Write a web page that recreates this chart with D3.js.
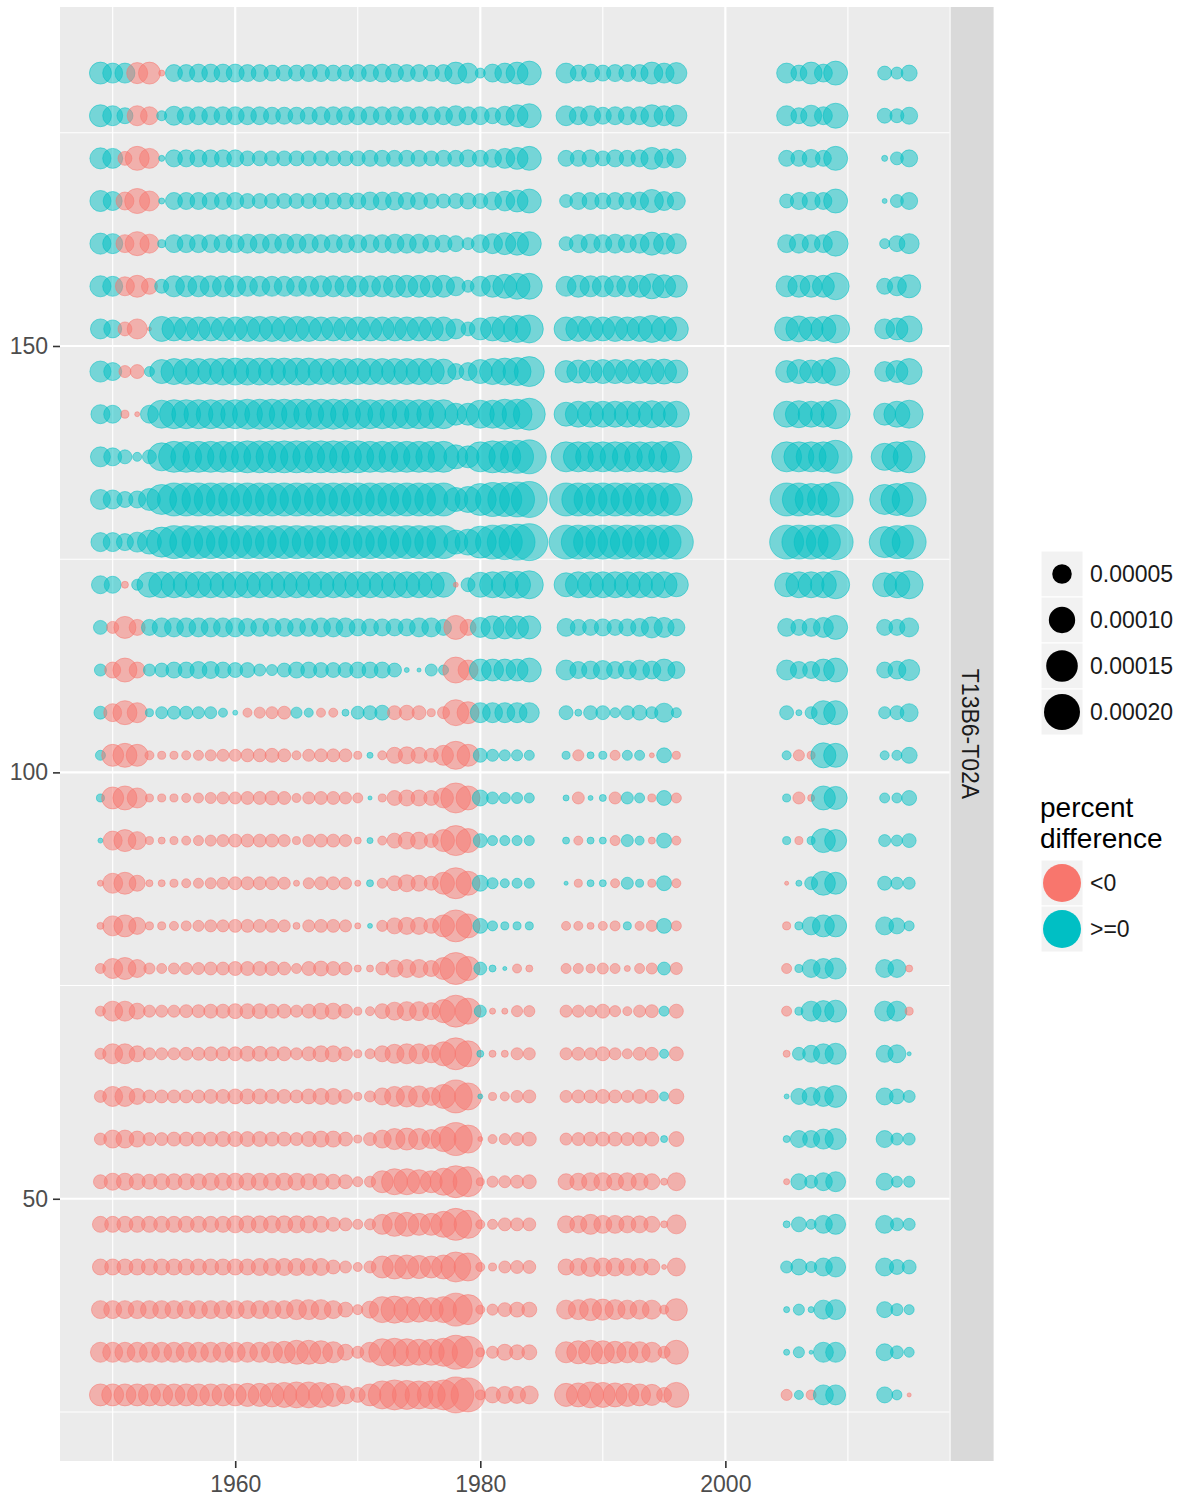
<!DOCTYPE html>
<html><head><meta charset="utf-8">
<script src="https://cdn.jsdelivr.net/npm/d3@7"></script>
<style>body{margin:0;background:#fff;} text{font-family:"Liberation Sans",Arial,sans-serif;}</style>
</head><body>
<script>
// ---- data ----
const years = [1949,1950,1951,1952,1953,1954,1955,1956,1957,1958,1959,1960,1961,1962,1963,1964,1965,1966,1967,1968,1969,1970,1971,1972,1973,1974,1975,1976,1977,1978,1979,1980,1981,1982,1983,1984,
  1987,1988,1989,1990,1991,1992,1993,1994,1995,1996, 2005,2006,2007,2008,2009, 2013,2014,2015];
const levels = [182,177,172,167,162,157,152,147,142,137,132,127,122,117,112,107,102,97,92,87,82,77,72,67,62,57,52,47,42,37,32,27];
const UNIT = 1e-5; // values below are percent difference in units of 0.00001
const r182 = [6.6,5.3,5.3,-6,-6.6,-0.17,3.6,3.6,4.1,4.1,4.1,4.1,3.6,3.6,3.1,3.1,3.1,3.6,3.6,3.1,3.1,3.6,3.6,4.1,4.1,3.6,3.6,3.1,3.6,6.6,5.3,0.9,4.1,5.3,6.6,8.1, 5.3,3.1,4.1,3.1,3.6,3.6,3.6,6.6,5.3,6, 5.3,3.1,6.6,4.1,8.1, 2.2,1.5,3.1];
const r177 = [6.6,5.3,3.1,-5.3,-4.1,0.9,4.7,4.1,4.1,4.1,4.1,4.1,4.1,4.1,3.6,3.6,3.6,3.6,4.1,4.1,4.1,4.1,4.1,4.1,4.1,4.1,4.1,4.1,4.1,5.3,4.1,4.1,3.1,4.7,6.6,8.1, 5.3,4.1,5.3,3.6,4.1,4.1,4.1,6.6,5.3,6, 5.3,3.1,6,4.1,8.9, 2.6,2.2,3.6];
const r172 = [6,5.3,-2.2,-8.1,-5.3,0.17, 3.6,3.6,3.6,3.6,3.6,3.6, 2.6,2.6,2.6,2.6,2.6,2.6,2.6,2.6,2.6,2.6, 3.1,3.1,3.1,3.1,3.1, 2.6,3.1,3.1,3.6,3.1,4.1,5.3,6.6,8.1, 3.1,3.1,3.6,2.6,3.6,3.1,3.6,6.6,4.7,4.7, 3.1,3.1,4.1,3.1,8.1, 0.17,1.8,3.6];
const r167 = [6,4.7,-4.1,-8.9,-5.3,0.17, 3.6,3.6,3.6,3.6,3.6,3.6, 2.6,2.6,2.6,2.6,2.6,2.6, 3.1,3.1,3.1,3.1, 4.1,4.1,4.1, 3.6,3.6, 2.6,2.2,2.6,3.1,2.6,4.1,5.3,6.6,8.1, 1.8,3.6,3.6,3.1,3.6,3.6,4.1,7.4,4.7,4.1, 2.2,3.6,4.1,3.6,8.1, 0.07,1.8,3.6];
const r162 = [6,5.3,-4.1,-8.1,-4.7,0.46, 4.1,4.1,4.1,4.1,4.1,4.1, 4.7,4.7,4.7,4.7,4.7,4.7, 4.1,4.1,4.1,4.1,4.1,4.1, 4.7,4.7,4.7, 3.6,3.6, 3.1,1.5,4.1,5.3,6.6,7.4,8.1, 2.2,4.1,4.7,4.1,4.7,4.1,4.7,7.4,6,5.3, 4.1,4.7,4.1,4.1,8.9, 0.9,3.1,5.3];
const r157 = [6,5.3,-4.7,-6.6,-3.1,2.2, 6,6,6,6,6,6, 5.3,5.3,5.3,5.3,5.3,5.3, 6,6,6,6,6,6, 6.6,6.6,6.6,6.6,6.6, 4.7,1.5,5.3,6.6,8.1,9.7,9.7, 5.3,6.6,6,6,6,6,6.6,8.9,7.4,6.6, 6,6.6,6.6,6.6,10.6, 3.1,4.7,7.4];
const r152 = [5.3,4.1,-2.2,-5.3,-0.02,8.9, 8.1,8.1,8.1,8.1,8.1,8.1, 8.9,8.9,8.9,8.9,8.9,8.9, 8.1,8.1,8.1,8.1,8.1,8.1,8.1,8.1,8.1,8.1,8.1, 5.3,2.2,6.6,8.1,9.7,10.6,11.5, 8.1,8.9,8.9,8.1,8.9,8.1,8.9,10.6,8.9,8.1, 8.1,9.7,8.1,8.9,11.5, 5.3,6.6,9.7];
const r147 = [6,4.1,-1.5,-2.2,0.9,8.1, 9.7,9.7,9.7,9.7, 10.6,10.6,10.6,10.6,10.6,10.6,10.6,10.6, 9.7,9.7,9.7,9.7,9.7,9.7,9.7,9.7,9.7,9.7, 8.9, 3.1,4.1,8.1,9.7,10.6,11.5,13.4, 6.6,7.4,7.4,8.1,8.1,8.1,8.1,8.9,8.9,7.4, 6.6,8.1,7.4,8.1,11.5, 5.3,6.6,9.7];
const r142 = [4.7,4.1,-0.46,-0.07,4.1,11.5, 12.4,12.4,12.4,12.4,12.4,12.4, 13.4,13.4,13.4,13.4,13.4,13.4,13.4,13.4,13.4,13.4, 12.4,12.4,12.4,12.4,12.4,12.4,12.4, 6.6,6.6,11.5,11.5,13.4,13.4,15.4, 8.1,9.7,9.7,9.7,9.7,9.7,9.7,10.6,9.7,9.7, 9.7,10.6,9.7,9.7,12.4, 6.6,9.7,11.5];
const r137 = [5.3,4.1,2.2,0.66,2.2,11.5, 14.4,14.4,14.4,14.4,14.4,14.4, 15.4,15.4,15.4,15.4,15.4,15.4,15.4,15.4,15.4,15.4, 14.4,14.4,14.4,14.4,14.4,14.4,14.4, 8.1,6.6,13.4,15.4,15.4,16.5,17.6, 13.4,13.4,13.4,13.4,13.4,13.4,13.4,13.4,14.4,14.4, 13.4,13.4,13.4,13.4,16.5, 10.6,13.4,15.4];
const r132 = [5.3,4.7,3.1,3.6,6.6,13.4, 16.5,16.5,16.5,16.5,16.5,16.5,16.5,16.5,16.5,16.5,16.5,16.5,16.5,16.5,16.5,16.5,16.5,16.5,16.5,16.5,16.5,16.5,16.5, 8.1,9.7,15.4,17.6,17.6,18.8,20, 16.5,16.5,16.5,16.5,16.5,16.5,16.5,16.5,16.5,15.4, 16.5,16.5,15.4,15.4,18.8, 13.4,15.4,17.6];
const r127 = [4.7,4.7,3.6,5.3,8.1,13.4, 16.5,16.5,16.5,16.5,16.5,16.5,16.5,16.5,16.5,16.5,16.5,16.5,16.5,16.5,16.5,16.5,16.5,16.5,16.5,16.5,16.5,16.5,16.5, 8.1,9.7,15.4,17.6,18.8,20,21.2, 17.6,17.6,17.6,17.6,17.6,17.6,17.6,17.6,17.6,17.6, 17.6,17.6,17.6,17.6,18.8, 14.4,16.5,17.6];
const r122 = [4.1,3.6,-0.29,1.2,8.9, 9.7,9.7,9.7,9.7,9.7,9.7,9.7,9.7,9.7,9.7,9.7,9.7,9.7,9.7,9.7,9.7,9.7,9.7,9.7,9.7,9.7,9.7,9.7, 8.9, -0.07,2.2,8.9,9.7,10.6,10.6,11.5, 8.1,9.7,9.7,9.7,9.7,9.7,9.7,9.7,9.7,8.1, 8.1,9.7,9.7,9.7,11.5, 8.1,9.7,11.5];
const r117 = [2.2,-1.5,-6.6,-3.1,3.1, 4.7,4.7,4.7,4.7,4.7,4.7,4.7, 4.1,4.1,4.1,4.1,4.1,4.1, 4.7,4.7,4.7, 3.6,3.6,3.6,3.6,3.6, 4.7,4.7, 3.1,-8.1,-3.1,5.3,7.4,7.4,7.4,7.4, 4.1,3.1,3.1,3.6,3.1,3.6,4.1,6,5.3,3.6, 4.1,3.1,4.1,5.3,8.1, 3.1,3.1,4.7];
const r112 = [1.5,-3.1,-8.1,-3.1,1.5, 2.2,3.1,3.1,3.6,3.6,3.1,2.6,2.6,1.5,1.2,2.2, 3.1,3.1,2.6,2.6,2.6,3.1,3.1,3.1,2.2, 0.07,0.02,1.5,0.9, -9.7,-5.3, 6.6,6.6,6.6,6.6,8.1, 5.3,3.6,4.1,4.7,3.6,4.1,5.3,4.1,6.6,3.6, 5.3,3.6,3.6,6.6,8.1, 3.1,4.1,6];
const r107 = [1.8,-4.1,-8.1,-5.3,0.46, 1.5,1.8,1.8,1.5,1.5,0.66,0.07, -0.66,-1.2,-1.5,-1.8, 1.2,0.66, -0.66,-0.66, 0.29,1.8,2.2,2.6, -2.2,-2.6,-2.2,-0.46,-1.5, -9.7,-6.6, 5.3,5.3,5.3,5.3,5.3, 2.2,0.29,2.2,2.2,0.9,2.2,2.6,1.5,4.7,0.9, 2.2,0.17,1.5,8.1,8.1, 1.5,2.2,4.1];
const r102 = [0.9,-6.6,-8.1,-6.6, -0.66,-0.46,-0.46,-0.66,-0.9,-1.2,-1.5,-1.5,-1.8,-1.8,-2.2,-1.8, -0.66,-1.5,-1.8,-1.8,-1.8, -0.46, 0.17, -0.66, -3.1,-3.6,-3.1,-2.2,-5.3, -11.5,-6.6, 2.2,1.5,1.2,1.2,0.9, 0.46,-1.2,0.29,0.46,-0.9,0.9,0.9,-0.07,2.6,-0.46, 0.66,-1.2,-0.46,8.9,8.1, 0.66,0.9,3.1];
const r97 = [0.46,-6.6,-8.1,-5.3, -0.46,-0.46,-0.46,-0.66,-0.9,-1.2,-1.5,-1.5,-1.8,-1.8,-2.2,-1.8, -0.66,-1.5,-1.8,-1.8,-1.5, -0.9, 0.02, -0.46, -2.6,-3.1,-3.1,-2.6,-5.3, -13.4,-8.1, 3.1,1.5,1.2,1.2,0.9, 0.17,-1.5,0.07,0.29,-1.5,1.5,0.9,-0.46,2.6,-0.9, 0.46,-1.5,-0.29,8.1,7.4, 0.9,0.9,2.6];
const r92 = [0.07,-4.7,-6.6,-4.1, -0.46,-0.29,-0.46,-0.66,-0.9,-1.2,-1.5,-1.8,-1.8,-1.8,-1.8,-1.5, -0.46,-1.5,-1.8,-1.8,-1.5, -0.29, 0.17, -0.66, -2.6,-3.6,-3.6,-2.2,-6.6, -13.4,-8.1, 2.2,0.9,0.9,0.9,0.9, 0.29,-0.66,0.29,0.29,-0.9,1.5,0.66,-0.29,2.6,-0.66, 0.46,-0.46,0.46,8.1,6.6, 1.5,1.2,2.2];
const r87 = [-0.17,-5.3,-6.6,-3.1, -0.29,-0.29,-0.46,-0.66,-0.9,-1.2,-1.5,-1.8,-1.8,-1.8,-1.8,-1.5, -0.17,-1.2,-1.8,-1.8,-1.5, -0.17, 0.29, -0.9, -2.6,-3.6,-3.1,-2.2,-6.6, -14.4,-8.1, 3.1,1.2,0.66,0.9,0.9, 0.02,-0.46,0.29,0.29,-0.66,1.5,0.46,-0.46,2.6,-0.66, -0.02,0.17,1.8,8.1,6.6, 2.2,1.5,1.5];
const r82 = [-0.29,-5.3,-6.6,-3.6, -0.46,-0.46,-0.66,-0.9,-1.2,-1.5,-1.5,-1.8,-1.8,-1.8,-1.8,-1.5, -0.29,-1.5,-1.8,-1.8,-1.5, -0.17, 0.07, -1.2, -3.1,-3.6,-3.6,-2.6,-6.6, -15.4,-8.1, 2.6,0.9,0.46,0.46,0.46, -0.66,-0.66,-0.29,-0.66,-0.9,0.46,-0.66,-1.2,2.6,-0.9, -0.46,0.46,4.1,6.6,6.6, 4.1,3.1,0.9];
const r77 = [-0.9,-5.3,-6.6,-4.1, -1.2,-0.9,-1.2,-1.5,-1.5,-1.8,-1.8,-2.2,-2.2,-2.2,-2.2,-1.8, -0.9,-2.2,-2.6,-2.2,-1.8, -0.29,-0.29, -1.8, -3.6,-4.1,-4.1,-3.1,-6.6, -15.4,-8.1, 1.8,0.29,0.02,-0.66,-0.29, -0.9,-0.9,-0.66,-1.2,-0.9,-0.17,-0.9,-1.2,1.8,-1.5, -0.9,0.46,4.1,5.3,6, 4.1,4.1,-0.29];
const r72 = [-0.9,-5.3,-5.3,-3.1, -1.5,-1.5,-1.5,-1.8,-1.8,-2.2,-2.2,-2.6,-2.6,-2.6,-2.2,-2.2, -1.5,-2.2,-3.1,-3.1,-2.2, -0.46,-0.66, -2.6, -4.1,-4.7,-4.7,-3.6,-7.4, -15.4,-9.7, 1.5,-0.17,-0.17,-1.2,-1.2, -1.5,-1.5,-1.2,-2.2,-1.2,-0.66,-1.5,-1.8,0.9,-2.2, -0.9,0.46,5.3,6,6.6, 5.3,5.3,-0.46];
const r67 = [-1.2,-5.3,-5.3,-3.1, -1.5,-1.5,-1.5,-1.8,-1.8,-2.2,-2.2,-2.2,-2.6,-2.6,-2.2,-2.2, -1.5,-2.2,-3.1,-3.1,-2.2, -0.46,-0.9, -3.1, -4.7,-5.3,-5.3,-4.1,-8.1, -15.4,-9.7, 0.29,-0.29,-0.29,-1.5,-1.5, -1.5,-1.8,-1.5,-2.2,-1.5,-0.9,-1.8,-1.8,0.66,-2.2, -0.29,1.8,3.6,5.3,6, 3.6,4.1,0.02];
const r62 = [-1.5,-5.3,-5.3,-3.1, -1.8,-1.8,-1.8,-1.8,-1.8,-2.2,-2.2,-2.6,-2.6,-2.6,-2.2,-2.2, -1.8,-2.6,-3.1,-3.1,-2.2, -0.46,-1.2, -3.6, -5.3,-6,-6,-4.1,-8.1, -16.5,-10.6, 0.07,-0.46,-0.66,-1.5,-1.8, -1.5,-1.8,-1.8,-2.2,-1.8,-1.5,-2.2,-1.8,0.66,-2.6, 0.07,3.1,4.1,5.3,6.6, 3.6,2.6,1.5];
const r57 = [-1.5,-4.1,-4.1,-3.1, -1.8,-1.8,-2.2,-2.2,-2.2,-2.2,-2.6,-2.6,-2.6,-2.6,-2.2,-2.2, -1.8,-2.6,-3.1,-3.1,-2.2, -0.46,-1.8, -4.1, -6,-6.6,-6,-4.7,-8.9, -16.5,-11.5, -0.07,-0.66,-1.2,-1.8,-2.2, -1.5,-1.8,-2.2,-2.2,-2.2,-1.8,-2.2,-2.2,0.29,-2.6, 0.29,3.6,3.6,5.3,6, 3.6,1.5,1.5];
const r52 = [-2.2,-3.6,-3.6,-3.1, -2.6,-3.1,-3.1,-3.1,-3.1,-3.6,-3.6,-3.6,-3.6,-3.6,-3.6,-3.6, -3.6,-3.1,-3.1,-2.6,-2.2, -0.9,-1.2, -6.6, -9.7,-9.7,-8.1,-6.6,-10.6, -15.4,-13.4, -0.46,-1.2,-1.5,-1.8,-2.2, -3.1,-3.6,-4.1,-4.1,-3.6,-4.1,-3.6,-3.1,-0.29,-4.1, -0.17,3.1,1.8,4.1,5.3, 3.6,1.2,1.2];
const r47 = [-3.1,-3.1,-3.1,-3.1,-3.1,-3.1,-3.1,-3.1,-3.1,-3.1,-3.1, -3.6,-3.6,-3.6,-3.6,-3.6,-3.6,-3.6, -3.1, -2.2,-1.8, -0.9,-1.2, -5.3,-8.1,-8.1,-6.6,-6.6,-9.7, -15.4,-11.5, -0.66,-0.9,-1.8,-1.8,-1.8, -3.6,-3.6,-5.3,-4.1,-4.1,-3.6,-3.6,-3.1,-0.29,-4.7, 0.29,2.6,0.9,4.1,5.3, 4.1,1.8,1.5];
const r42 = [-3.1,-3.1,-3.1,-3.1,-3.1,-3.1,-3.1,-3.1,-3.1,-3.1,-3.1,-3.1,-3.1, -3.6,-3.6,-3.6,-3.6,-3.6,-3.6, -2.2,-1.5, -0.66,-1.5, -6.6,-8.1,-8.1,-7.4,-6.6,-8.1, -13.4,-11.5, -0.66,-0.46,-1.5,-1.8,-1.8, -3.1,-3.6,-4.7,-4.1,-4.1,-3.6,-3.6,-3.1,-0.07,-4.1, 1.5,3.1,1.2,4.1,5.3, 4.1,2.6,2.2];
const r37 = [-4.1,-4.1,-4.1,-4.1,-4.1,-4.1,-4.1,-4.1,-4.1,-4.1,-4.1,-4.1,-4.1,-4.1,-4.1,-4.1, -5.3,-5.3,-5.3, -4.1,-2.6, -0.9,-3.6, -9.7,-10.6,-9.7,-8.9,-8.1,-9.7, -16.5,-13.4, -0.66,-1.2,-2.2,-2.6,-2.6, -4.7,-5.3,-6.6,-6,-5.3,-4.7,-4.7,-4.7,-0.66,-6.6, 0.17,1.2,0.17,4.7,5.3, 3.1,1.5,0.9];
const r32 = [-5.3,-5.3,-5.3,-5.3,-5.3,-5.3,-5.3,-5.3,-5.3,-5.3,-5.3,-5.3,-5.3,-5.3, -6,-6.6,-8.1,-8.1,-7.4,-6, -3.1,-1.5, -5.3, -10.6,-11.5,-10.6,-9.7,-9.7,-11.5, -17.6,-15.4, -0.66,-1.5,-3.1,-2.6,-2.6, -6,-7.4,-8.1,-7.4,-6.6,-6,-6,-5.3,-1.5,-8.1, 0.17,1.2,0.02,5.3,5.3, 3.6,1.8,0.9];
const r27 = [-6.6,-6.6,-6.6,-6.6,-6.6,-6.6,-6.6,-6.6,-6.6,-6.6,-6.6,-6.6, -7.4,-7.4,-8.1,-8.9,-9.7,-9.7,-8.9,-7.4, -4.1,-2.6, -6.6, -11.5,-13.4,-12.4,-11.5,-11.5,-13.4, -20,-17.6, -0.9,-3.1,-3.6,-3.6,-4.1, -7.4,-8.1,-9.7,-8.9,-8.1,-7.4,-6.6,-6,-2.6,-8.9, -1.2,0.66,-0.9,5.3,5.3, 3.1,0.9,-0.02];
const rows = [r182,r177,r172,r167,r162,r157,r152,r147,r142,r137,r132,r127,r122,r117,r112,r107,r102,r97,r92,r87,r82,r77,r72,r67,r62,r57,r52,r47,r42,r37,r32,r27];
const xTicks = [1960,1980,2000], xMinor = [1950,1970,1990,2010];
const yTicks = [50,100,150], yMinor = [25,75,125,175];
const sizeBreaks = [0.00005,0.00010,0.00015,0.00020];
const sizeLabels = ["0.00005","0.00010","0.00015","0.00020"];
const signCats = ["<0",">=0"];
const facetLabel = "T13B6-T02A";

// ---- build ----
const points = [];
rows.forEach((vals,i)=>vals.forEach((v,j)=>points.push({year:years[j], level:levels[i], value:v*UNIT})));

const W=1185,H=1500;
const svg = d3.select("body").append("svg").attr("width",W).attr("height",H);
const P = {l:60, r:949.6, t:7, b:1461};
const x = d3.scaleLinear().domain([1945.7,2018.3]).range([P.l,P.r]);
const y = d3.scaleLinear().domain([19.25,189.75]).range([P.b,P.t]);
const rs = d3.scaleSqrt().domain([0,0.0002]).range([1.5,18]);
const col = d3.scaleOrdinal().domain(signCats).range(["#F8766D","#00BFC4"]);

svg.append("rect").attr("x",P.l).attr("y",P.t).attr("width",P.r-P.l).attr("height",P.b-P.t).attr("fill","#EBEBEB");
const g = svg.append("g");
g.selectAll(".xm").data(xMinor).join("line").attr("x1",d=>x(d)).attr("x2",d=>x(d)).attr("y1",P.t).attr("y2",P.b).attr("stroke","#fff").attr("stroke-width",1.1);
g.selectAll(".ym").data(yMinor).join("line").attr("class","ym").attr("y1",d=>y(d)).attr("y2",d=>y(d)).attr("x1",P.l).attr("x2",P.r).attr("stroke","#fff").attr("stroke-width",1.1);
g.selectAll(".xM").data(xTicks).join("line").attr("class","xM").attr("x1",d=>x(d)).attr("x2",d=>x(d)).attr("y1",P.t).attr("y2",P.b).attr("stroke","#fff").attr("stroke-width",2.2);
g.selectAll(".yM").data(yTicks).join("line").attr("class","yM").attr("y1",d=>y(d)).attr("y2",d=>y(d)).attr("x1",P.l).attr("x2",P.r).attr("stroke","#fff").attr("stroke-width",2.2);

svg.append("g").selectAll("circle").data(points).join("circle")
  .attr("cx",d=>x(d.year)).attr("cy",d=>y(d.level)).attr("r",d=>rs(Math.abs(d.value)))
  .attr("fill",d=>col(d.value<0?"<0":">=0")).attr("fill-opacity",0.5)
  .attr("stroke",d=>col(d.value<0?"<0":">=0")).attr("stroke-opacity",0.5).attr("stroke-width",1);

// axes
const ax = svg.append("g").attr("transform",`translate(0,${P.b})`).call(d3.axisBottom(x).tickValues(xTicks).tickFormat(d3.format("d")).tickSize(7).tickPadding(8));
const ay = svg.append("g").attr("transform",`translate(${P.l},0)`).call(d3.axisLeft(y).tickValues(yTicks).tickSize(7).tickPadding(5));
[ax,ay].forEach(a=>{a.select(".domain").remove();a.selectAll(".tick line").attr("stroke","#333").attr("stroke-width",1.6);
  a.selectAll(".tick text").attr("fill","#4D4D4D").style("font-size","23px").style("font-family","'Liberation Sans',Arial,sans-serif");});

// strip
svg.append("rect").attr("x",P.r+1).attr("y",P.t).attr("width",43).attr("height",P.b-P.t).attr("fill","#D9D9D9");
svg.append("text").attr("transform",`translate(${P.r+20},${(P.t+P.b)/2}) rotate(90)`).attr("text-anchor","middle").attr("dominant-baseline","central")
  .attr("fill","#1A1A1A").style("font-size","23px").text(facetLabel);

// size legend
const L = {x:1041, w:42, kh:46};
const sl = svg.append("g");
sizeBreaks.forEach((b,i)=>{
  const cy = 551 + i*L.kh;
  sl.append("rect").attr("x",L.x).attr("y",cy).attr("width",L.w).attr("height",L.kh).attr("fill","#F2F2F2").attr("stroke","#fff").attr("stroke-width",1);
  sl.append("circle").attr("cx",L.x+L.w/2).attr("cy",cy+L.kh/2).attr("r",rs(b)).attr("fill","#000");
  sl.append("text").attr("x",1090).attr("y",cy+L.kh/2).attr("dominant-baseline","central").attr("fill","#1A1A1A").style("font-size","23px").text(sizeLabels[i]);
});
// colour legend
const cl = svg.append("g");
cl.append("text").attr("x",1040).attr("y",817).attr("fill","#000").style("font-size","28px").text("percent");
cl.append("text").attr("x",1040).attr("y",848).attr("fill","#000").style("font-size","28px").text("difference");
signCats.forEach((c,i)=>{
  const cy = 860 + i*L.kh;
  cl.append("rect").attr("x",L.x).attr("y",cy).attr("width",L.w).attr("height",L.kh).attr("fill","#F2F2F2").attr("stroke","#fff").attr("stroke-width",1);
  cl.append("circle").attr("cx",L.x+L.w/2).attr("cy",cy+L.kh/2).attr("r",19).attr("fill",col(c));
  cl.append("text").attr("x",1090).attr("y",cy+L.kh/2).attr("dominant-baseline","central").attr("fill","#1A1A1A").style("font-size","23px").text(c);
});
</script>
</body></html>
